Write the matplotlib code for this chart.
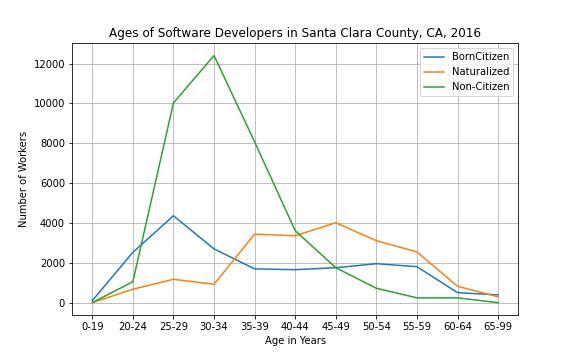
import matplotlib
matplotlib.use("Agg")
import matplotlib.pyplot as plt

ages = ['0-19', '20-24', '25-29', '30-34', '35-39', '40-44',
        '45-49', '50-54', '55-59', '60-64', '65-99']
born_citizen = [130, 2550, 4380, 2720, 1720, 1680, 1780, 1980, 1830, 530, 420]
naturalized = [30, 700, 1200, 950, 3460, 3380, 4030, 3130, 2570, 850, 320]
non_citizen = [30, 1080, 10030, 12400, 8080, 3630, 1780, 750, 270, 270, 30]

fig = plt.figure(figsize=(8, 5), dpi=72)
fig.subplots_adjust(bottom=0.125)
ax = fig.add_subplot(1, 1, 1)

x = range(len(ages))
ax.plot(x, born_citizen, color='#1f77b4', label='BornCitizen')
ax.plot(x, naturalized, color='#ff7f0e', label='Naturalized')
ax.plot(x, non_citizen, color='#2ca02c', label='Non-Citizen')

ax.set_xticks(list(x))
ax.set_xticklabels(ages)
ax.set_xlabel('Age in Years')
ax.set_ylabel('Number of Workers')
ax.set_title('Ages of Software Developers in Santa Clara County, CA, 2016')
ax.grid(True, color='#b0b0b0')
ax.legend(loc='upper right')

fig.savefig('out.png', dpi=72)
